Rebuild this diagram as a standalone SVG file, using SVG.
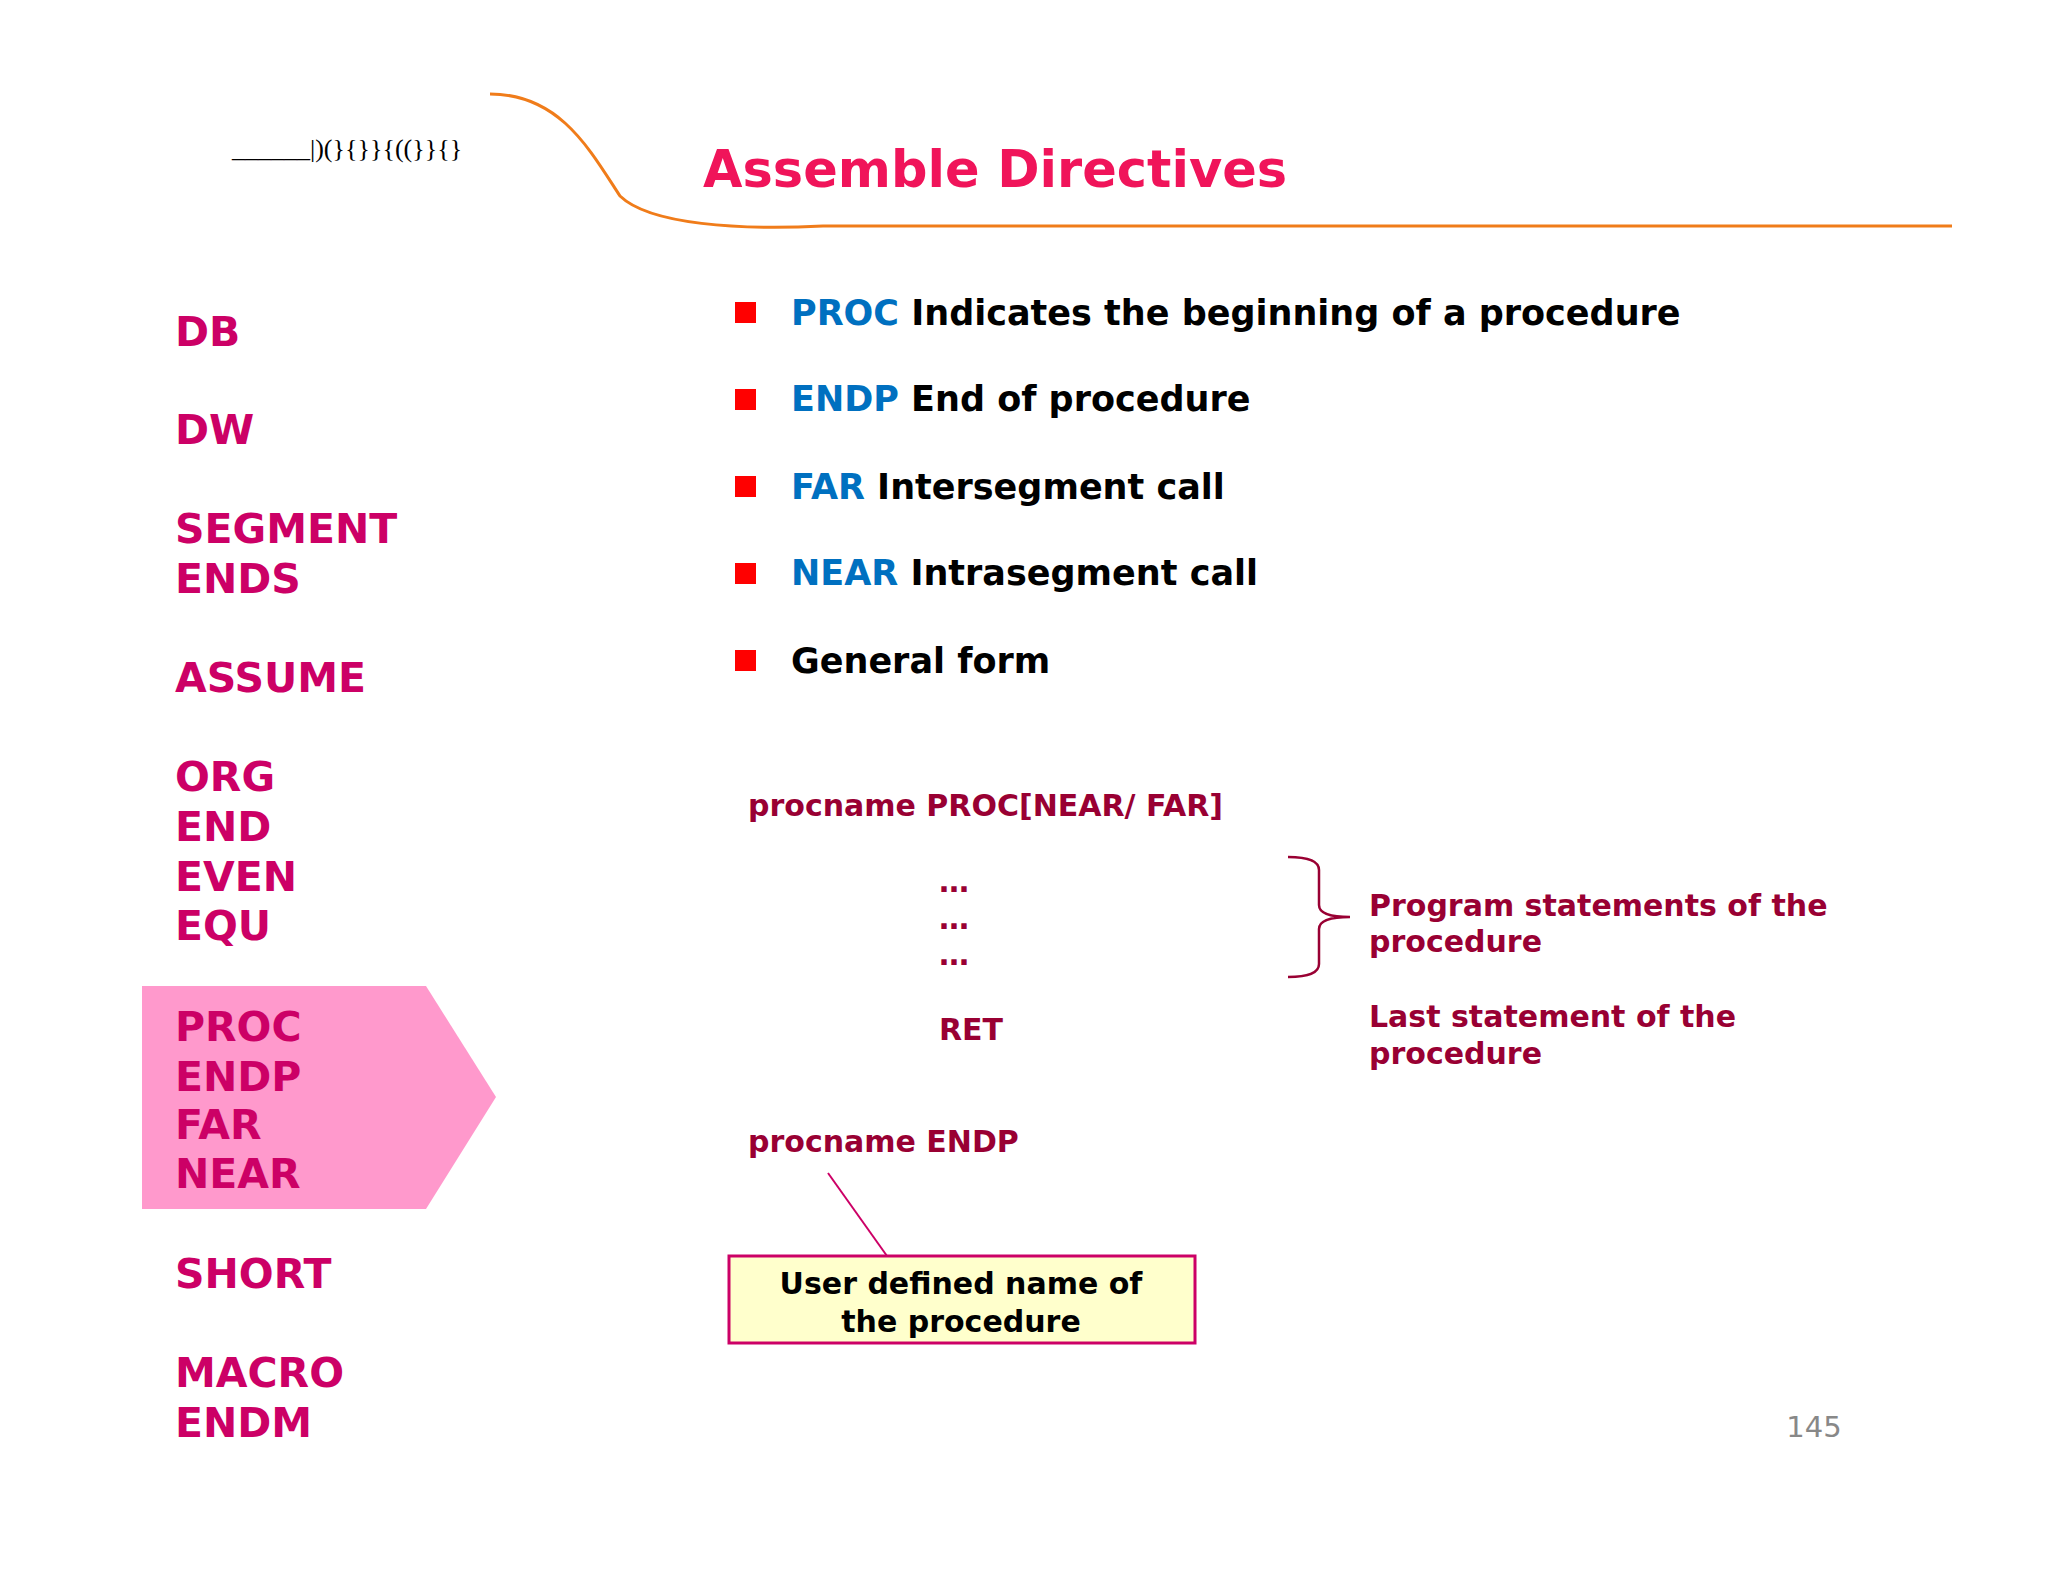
<svg xmlns="http://www.w3.org/2000/svg" width="2048" height="1582" viewBox="0 0 2048 1582">
<style>
.l{font-family:"DejaVu Sans",Verdana,sans-serif;font-weight:bold;font-size:41px;fill:#cc0066}
.b{font-family:"DejaVu Sans",Verdana,sans-serif;font-weight:bold;font-size:35px;fill:#000}
.k{fill:#0070c0}
.m{font-family:"DejaVu Sans",Verdana,sans-serif;font-weight:bold;font-size:30px;fill:#990033}
.y{font-family:"DejaVu Sans",Verdana,sans-serif;font-weight:bold;font-size:30px;fill:#000}
</style>
<rect width="2048" height="1582" fill="#fff"/>
<g id="header">
<path d="M490,94 C560,94 590,150 620,196 C650,225 740,230 823,226 L1952,226" fill="none" stroke="#f07c1a" stroke-width="3"/>
<text x="232" y="157" font-family="Liberation Serif,serif" font-size="26" fill="#000">______|)(}{}}{((}}{}</text>
<text x="703" y="187" font-family="DejaVu Sans,Verdana,sans-serif" font-weight="bold" font-size="51" fill="#f0145a">Assemble Directives</text>
</g>
<g id="sidebar">
<path d="M142,986 L426,986 L496,1097 L426,1209 L142,1209 Z" fill="#ff99cc"/>
<text class="l" x="175" y="346">DB</text>
<text class="l" x="175" y="444">DW</text>
<text class="l" x="175" y="543">SEGMENT</text>
<text class="l" x="175" y="593">ENDS</text>
<text class="l" x="175" y="692">ASSUME</text>
<text class="l" x="175" y="791">ORG</text>
<text class="l" x="175" y="841">END</text>
<text class="l" x="175" y="891">EVEN</text>
<text class="l" x="175" y="940">EQU</text>
<text class="l" x="175" y="1041">PROC</text>
<text class="l" x="175" y="1091">ENDP</text>
<text class="l" x="175" y="1139">FAR</text>
<text class="l" x="175" y="1188">NEAR</text>
<text class="l" x="175" y="1288">SHORT</text>
<text class="l" x="175" y="1387">MACRO</text>
<text class="l" x="175" y="1437">ENDM</text>
</g>
<g id="bullets">
<rect x="735" y="302" width="21" height="21" fill="#f00"/>
<rect x="735" y="389" width="21" height="21" fill="#f00"/>
<rect x="735" y="476" width="21" height="21" fill="#f00"/>
<rect x="735" y="563" width="21" height="21" fill="#f00"/>
<rect x="735" y="650" width="21" height="21" fill="#f00"/>
<text class="b" x="791" y="325"><tspan class="k">PROC</tspan> Indicates the beginning of a procedure</text>
<text class="b" x="791" y="411"><tspan class="k">ENDP</tspan> End of procedure</text>
<text class="b" x="791" y="499"><tspan class="k">FAR</tspan> Intersegment call</text>
<text class="b" x="791" y="585"><tspan class="k">NEAR</tspan> Intrasegment call</text>
<text class="b" x="791" y="673">General form</text>
</g>
<g id="code">
<text class="m" x="748" y="816">procname PROC[NEAR/ FAR]</text>
<text class="m" x="939" y="892">…</text>
<text class="m" x="939" y="929">…</text>
<text class="m" x="939" y="965">…</text>
<text class="m" x="939" y="1040">RET</text>
<text class="m" x="748" y="1152">procname ENDP</text>
<text class="m" x="1369" y="916">Program statements of the</text>
<text class="m" x="1369" y="952">procedure</text>
<text class="m" x="1369" y="1027">Last statement of the</text>
<text class="m" x="1369" y="1064">procedure</text>
</g>
<g id="connectors">
<path d="M1288,857 Q1319,857 1319,870 L1319,905 Q1319,917 1350,917 Q1319,917 1319,929 L1319,964 Q1319,977 1288,977" fill="none" stroke="#990033" stroke-width="2.5"/>
<line x1="828" y1="1173" x2="887" y2="1256" stroke="#cc0066" stroke-width="2"/>
</g>
<g id="note">
<rect x="729" y="1256" width="466" height="87" fill="#ffffcc" stroke="#cc0066" stroke-width="3"/>
<text class="y" x="961" y="1294" text-anchor="middle">User defined name of</text>
<text class="y" x="961" y="1332" text-anchor="middle">the procedure</text>
</g>
<text x="1814" y="1437" text-anchor="middle" font-family="DejaVu Sans,Verdana,sans-serif" font-size="29" fill="#888">145</text>
</svg>
